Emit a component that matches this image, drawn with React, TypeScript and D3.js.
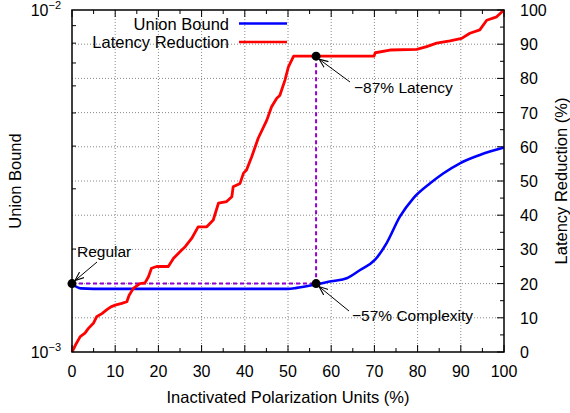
import React from 'react';
import * as d3 from 'd3';

// Latency Reduction (%)
const latencyX = [0, 1, 1.9, 3, 3.8, 5, 5.7, 7, 8, 9, 10, 11.5, 12.7, 13.2, 14.2, 15.7, 16.9, 17.7, 18.4, 19.6, 22.3, 23.5, 25.4, 26.2, 27.7, 29.2, 31.2, 32.7, 33.9, 35.8, 37, 37.3, 38.9, 39.7, 40.4, 41.6, 43.1, 45.1, 46.2, 47.4, 48.1, 49.3, 50.1, 51.3, 69.9, 70.2, 73.6, 79.8, 82.1, 84.4, 87.5, 90.2, 92.1, 94.4, 96, 98.3, 100];
const latencyY = [0, 2.5, 4.5, 5.5, 6.9, 8.5, 10.3, 11.3, 12.3, 13.2, 13.7, 14.2, 14.7, 16.5, 18.6, 20, 20.2, 22, 24.5, 25, 25, 27.4, 29.8, 30.8, 33.2, 36.6, 36.6, 38.6, 43.5, 44, 45.4, 48.3, 49.3, 52.3, 53.2, 57.1, 62.5, 67.8, 71.7, 74.2, 75, 79.5, 83.4, 86.5, 86.5, 87.5, 88.3, 88.5, 89.3, 90.3, 91, 91.7, 93.2, 94.2, 97, 98, 100];

const boundX = [0, 2, 5, 20, 40, 50, 52, 56.5, 60, 63.6, 66.7, 70.1, 72.8, 75.9, 79, 82.9, 86, 89.8, 94.4, 100];
const boundY = [1.58e-3, 1.535e-3, 1.53e-3, 1.53e-3, 1.53e-3, 1.53e-3, 1.54e-3, 1.575e-3, 1.61e-3, 1.643e-3, 1.737e-3, 1.858e-3, 2.078e-3, 2.487e-3, 2.815e-3, 3.113e-3, 3.331e-3, 3.563e-3, 3.767e-3, 3.96e-3];

// annotated points: [x, latency %]
const markX = [0, 56.5, 56.5];
const markY = [20, 86.5, 20];

const xTicks = [0, 10, 20, 30, 40, 50, 60, 70, 80, 90, 100];
const yTicks = [0, 10, 20, 30, 40, 50, 60, 70, 80, 90, 100];
const logMinor = [2e-3, 3e-3, 4e-3, 5e-3, 6e-3, 7e-3, 8e-3, 9e-3];

const W = 570, H = 413;
const m = { left: 72, right: 504, top: 10, bottom: 352 };
const font = 'Liberation Sans, Arial, sans-serif';

export default function App() {
  const x = d3.scaleLinear().domain([0, 100]).range([m.left, m.right]);
  const y2 = d3.scaleLinear().domain([0, 100]).range([m.bottom, m.top]);
  const y1 = d3.scaleLog().domain([1e-3, 1e-2]).range([m.bottom, m.top]);

  const latency = latencyX.map((v, i) => [v, latencyY[i]] as [number, number]);
  const bound = boundX.map((v, i) => [v, boundY[i]] as [number, number]);

  const redLine = d3.line<[number, number]>().x(d => x(d[0])).y(d => y2(d[1]));
  const blueLine = d3.line<[number, number]>().curve(d3.curveMonotoneX).x(d => x(d[0])).y(d => y1(d[1]));

  const minorX = d3.range(5, 100, 10);
  const minorY = d3.range(5, 100, 10);

  const mk = markX.map((v, i) => ({ cx: x(v), cy: y2(markY[i]) }));

  return (
    <svg width={W} height={H} style={{ position: 'absolute', left: 0, top: 0, background: '#fff' }} fontFamily={font}>
      <defs>
        <marker id="arr" viewBox="0 0 10 10" refX="10" refY="5" markerWidth="9" markerHeight="9" orient="auto">
          <path d="M0,1 L10,5 L0,9" fill="none" stroke="#000" strokeWidth="1.2" />
        </marker>
      </defs>

      {/* grid */}
      <g stroke="#888" strokeWidth={1} strokeDasharray="1,2">
        {xTicks.slice(1, -1).map(t => (
          <line key={'gx' + t} x1={x(t)} x2={x(t)} y1={m.top} y2={m.bottom} />
        ))}
        {yTicks.slice(1, -1).map(t => (
          <line key={'gy' + t} x1={m.left} x2={m.right} y1={y2(t)} y2={y2(t)} />
        ))}
      </g>

      {/* ticks */}
      <g stroke="#000" strokeWidth={1}>
        {xTicks.map(t => (
          <g key={'tx' + t}>
            <line x1={x(t)} x2={x(t)} y1={m.bottom} y2={m.bottom - 7} />
            <line x1={x(t)} x2={x(t)} y1={m.top} y2={m.top + 7} />
          </g>
        ))}
        {minorX.map(t => (
          <g key={'mx' + t}>
            <line x1={x(t)} x2={x(t)} y1={m.bottom} y2={m.bottom - 4} />
            <line x1={x(t)} x2={x(t)} y1={m.top} y2={m.top + 4} />
          </g>
        ))}
        {yTicks.map(t => (
          <line key={'ty' + t} x1={m.right} x2={m.right - 7} y1={y2(t)} y2={y2(t)} />
        ))}
        {minorY.map(t => (
          <line key={'my' + t} x1={m.right} x2={m.right - 4} y1={y2(t)} y2={y2(t)} />
        ))}
        {logMinor.map(t => (
          <line key={'lm' + t} x1={m.left} x2={m.left + 4} y1={y1(t)} y2={y1(t)} />
        ))}
      </g>

      {/* dashed guides */}
      <g stroke="#9400d3" strokeWidth={2} strokeDasharray="4,3" fill="none">
        <line x1={mk[0].cx} x2={mk[2].cx} y1={mk[0].cy} y2={mk[2].cy} />
        <line x1={mk[1].cx} x2={mk[2].cx} y1={mk[1].cy} y2={mk[2].cy} />
      </g>

      {/* series */}
      <path d={blueLine(bound) || ''} fill="none" stroke="#0000ff" strokeWidth={2.6} />
      <path d={redLine(latency) || ''} fill="none" stroke="#ff0000" strokeWidth={2.8} strokeLinejoin="round" />

      {/* frame */}
      <rect x={m.left} y={m.top} width={m.right - m.left} height={m.bottom - m.top} fill="none" stroke="#000" strokeWidth={1.5} />

      {/* markers */}
      {mk.map((p, i) => (
        <circle key={'mk' + i} cx={p.cx} cy={p.cy} r={4.5} fill="#000" />
      ))}

      {/* annotations */}
      <g fontSize={15.5} fill="#000">
        <text x={77} y={257}>Regular</text>
        <text x={354} y={93}>−87% Latency</text>
        <text x={352} y={321}>−57% Complexity</text>
      </g>
      <g stroke="#000" strokeWidth={1} markerEnd="url(#arr)">
        <line x1={97} y1={262} x2={mk[0].cx + 3} y2={mk[0].cy - 3} />
        <line x1={350} y1={82} x2={mk[1].cx + 3} y2={mk[1].cy + 3} />
        <line x1={349} y1={311} x2={mk[2].cx + 3} y2={mk[2].cy + 3} />
      </g>

      {/* tick labels */}
      <g fontSize={16} fill="#000">
        {xTicks.map(t => (
          <text key={'lx' + t} x={x(t)} y={377} textAnchor="middle">{t}</text>
        ))}
        {yTicks.map(t => (
          <text key={'ly' + t} x={520} y={y2(t) + 6}>{t}</text>
        ))}
        {[1e-2, 1e-3].map(t => (
          <text key={'ll' + t} x={61} y={y1(t) + 6} textAnchor="end">
            10<tspan fontSize={11} dy={-7}>{t === 1e-2 ? '−2' : '−3'}</tspan>
          </text>
        ))}
      </g>

      {/* axis titles */}
      <g fontSize={16.5} fill="#000">
        <text x={(m.left + m.right) / 2} y={403} textAnchor="middle">Inactivated Polarization Units (%)</text>
        <text transform={`translate(21,${(m.top + m.bottom) / 2}) rotate(-90)`} textAnchor="middle">Union Bound</text>
        <text transform={`translate(567,${(m.top + m.bottom) / 2}) rotate(-90)`} textAnchor="middle">Latency Reduction (%)</text>
      </g>

      {/* legend */}
      <g fontSize={16.5} fill="#000">
        <text x={229} y={29.5} textAnchor="end">Union Bound</text>
        <line x1={239} x2={287} y1={23.5} y2={23.5} stroke="#0000ff" strokeWidth={2.5} />
        <text x={229} y={48} textAnchor="end">Latency Reduction</text>
        <line x1={239} x2={287} y1={42} y2={42} stroke="#ff0000" strokeWidth={2.5} />
      </g>
    </svg>
  );
}
